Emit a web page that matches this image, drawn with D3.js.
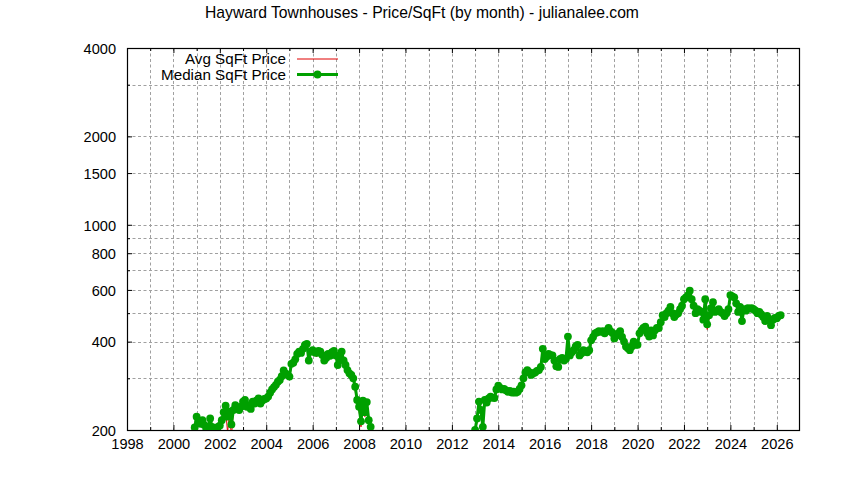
<!DOCTYPE html>
<html><head><meta charset="utf-8">
<script src="https://cdn.jsdelivr.net/npm/d3@7"></script>
<style>
body{margin:0;background:#fff}
svg{display:block}
text{font-family:"Liberation Sans",Arial,Helvetica,sans-serif;fill:#000}
</style>
</head><body>
<svg id="chart" width="844" height="480"></svg>
<script>
// ---------------- data ----------------
const chartTitle = "Hayward Townhouses - Price/SqFt (by month) - julianalee.com";
const seriesNames = ["Avg SqFt Price", "Median SqFt Price"];
const seriesColors = ["#e00000", "#00a000"];

const xMajorTicks = [1998, 2000, 2002, 2004, 2006, 2008, 2010, 2012, 2014, 2016, 2018, 2020, 2022, 2024, 2026];
const xMinorTicks = [1999, 2001, 2003, 2005, 2007, 2009, 2011, 2013, 2015, 2017, 2019, 2021, 2023, 2025];
const yMajorTicks = [200, 400, 600, 800, 1000, 1500, 2000, 4000];
const yMinorTicks = [300, 500, 700, 900, 3000];

// first run of months starts Dec 2000
const earlyStart = {year: 2000, month: 12};
const medianEarly = [204,
  222,214,210,216,208,200,204,219,205,201,198,205,
  207,216,230,242,222,231,209,234,243,236,234,240,
  250,253,240,243,236,250,246,252,256,246,252,255,
  256,260,268,275,280,285,292,296,305,319,312,308,
  304,336,339,348,363,370,366,378,390,393,345,370,
  374,368,366,372,370,360,345,352,363,358,368,372,
  359,333,352,370,345,333,320,312,308,300,281,253,
  240,214,252,230,249,216,205,190];
const avgEarly = [202,
  220,212,206,214,205,198,203,215,203,199,196,204,
  206,214,226,236,196,228,190,230,240,232,231,238,
  247,250,236,241,232,248,244,250,252,244,250,252,
  258,257,265,272,278,283,288,293,300,314,308,305,
  300,330,335,344,358,364,360,372,378,388,340,365,
  368,362,355,366,362,352,338,346,356,350,360,366,
  352,326,340,362,336,324,310,305,300,292,272,242,
  232,205,240,222,240,205,198,185];

// second run of months starts Dec 2012
const lateStart = {year: 2012, month: 12};
const medianLate = [190,
  200,219,250,234,205,253,248,256,260,258,257,275,
  283,278,275,276,273,270,272,268,270,268,270,276,
  284,300,314,320,315,308,312,314,318,320,328,378,
  349,355,363,360,359,345,330,328,349,352,345,350,
  416,359,368,374,385,390,359,365,374,370,368,374,
  404,415,427,430,434,432,434,427,435,445,434,428,
  410,420,427,434,415,400,385,380,374,385,400,390,
  390,427,437,445,450,427,416,437,420,437,445,445,
  466,492,485,500,510,525,500,485,495,500,516,530,
  558,566,575,596,558,530,500,516,510,505,475,558,
  458,492,520,545,505,510,516,505,500,489,500,516,
  576,570,566,540,505,525,470,516,510,520,518,520,
  516,510,500,505,495,485,470,489,478,455,475,482,
  480,489,492];
const avgLate = [188,
  198,212,240,226,200,245,244,250,255,254,252,268,
  278,275,272,272,270,268,269,266,268,266,268,272,
  280,296,308,316,312,305,308,310,314,316,322,366,
  340,346,356,352,350,336,322,320,340,345,338,344,
  405,352,362,368,378,382,352,360,368,365,362,368,
  396,405,418,424,428,425,428,420,428,438,428,420,
  404,414,420,428,408,392,378,374,368,378,392,384,
  384,420,430,438,442,420,410,430,414,430,438,438,
  458,484,478,492,502,516,492,478,486,492,508,520,
  548,556,566,588,550,520,492,508,500,495,465,548,
  440,480,508,535,495,500,505,495,490,478,490,508,
  566,560,556,530,495,515,460,505,500,510,508,510,
  508,500,490,495,485,475,460,480,468,448,466,475,
  472,480,485];

// ---------------- layout ----------------
const plot = {left: 127, right: 800, top: 48, bottom: 430};
const svg = d3.select("#chart");

const x = d3.scaleLinear().domain([1998, 2027]).range([plot.left, plot.right]);
const y = d3.scaleLog().domain([200, 4000]).range([plot.bottom, plot.top]);

function toPoints(start, values) {
  return values.map((v, i) => ({t: start.year + (start.month - 1 + i) / 12, v}));
}

// grid
const grid = svg.append("g").attr("stroke", "#a0a0a0").attr("stroke-width", 1)
  .attr("stroke-dasharray", "3,2.5").attr("fill", "none");
xMajorTicks.concat(xMinorTicks).filter(t => t > 1998).forEach(t => {
  const px = Math.round(x(t)) + 0.5;
  grid.append("line").attr("x1", px).attr("x2", px).attr("y1", plot.top).attr("y2", plot.bottom);
});
yMajorTicks.concat(yMinorTicks).filter(t => t > 200 && t < 4000).forEach(t => {
  const py = Math.round(y(t)) + 0.5;
  grid.append("line").attr("x1", plot.left).attr("x2", plot.right).attr("y1", py).attr("y2", py);
});

// axes (ticks pointing inward, mirrored)
const fmt = d3.format("d");
const axB = svg.append("g").attr("transform", `translate(0,${plot.bottom})`)
  .call(d3.axisBottom(x).tickValues(xMajorTicks).tickSize(-5).tickPadding(9).tickFormat(fmt));
const axBm = svg.append("g").attr("transform", `translate(0,${plot.bottom})`)
  .call(d3.axisBottom(x).tickValues(xMinorTicks).tickSize(-3).tickFormat(""));
const axT = svg.append("g").attr("transform", `translate(0,${plot.top})`)
  .call(d3.axisTop(x).tickValues(xMajorTicks).tickSize(-5).tickFormat(""));
const axTm = svg.append("g").attr("transform", `translate(0,${plot.top})`)
  .call(d3.axisTop(x).tickValues(xMinorTicks).tickSize(-3).tickFormat(""));
const axL = svg.append("g").attr("transform", `translate(${plot.left},0)`)
  .call(d3.axisLeft(y).tickValues(yMajorTicks).tickSize(-5).tickPadding(11).tickFormat(fmt));
const axLm = svg.append("g").attr("transform", `translate(${plot.left},0)`)
  .call(d3.axisLeft(y).tickValues(yMinorTicks).tickSize(-3).tickFormat(""));
const axR = svg.append("g").attr("transform", `translate(${plot.right},0)`)
  .call(d3.axisRight(y).tickValues(yMajorTicks).tickSize(-5).tickFormat(""));
const axRm = svg.append("g").attr("transform", `translate(${plot.right},0)`)
  .call(d3.axisRight(y).tickValues(yMinorTicks).tickSize(-3).tickFormat(""));

[axB, axBm, axT, axTm, axL, axLm, axR, axRm].forEach(g => {
  g.select(".domain").remove();
  g.selectAll("line").attr("stroke", "#000").attr("stroke-width", 1);
  g.selectAll("text").attr("font-size", "14.6px").attr("fill", "#000")
    .attr("font-family", '"Liberation Sans",Arial,sans-serif');
});
axB.selectAll("text").attr("dy", null).attr("y", 19);
axL.selectAll("text").attr("dy", "0.36em");

// border
svg.append("rect").attr("x", plot.left + 0.5).attr("y", plot.top + 0.5)
  .attr("width", plot.right - plot.left - 1).attr("height", plot.bottom - plot.top)
  .attr("fill", "none").attr("stroke", "#000").attr("stroke-width", 1.2);

// clip
svg.append("clipPath").attr("id", "clip").append("rect")
  .attr("x", plot.left).attr("y", plot.top)
  .attr("width", plot.right - plot.left).attr("height", plot.bottom - plot.top);
const data = svg.append("g").attr("clip-path", "url(#clip)");

const line = d3.line().x(d => x(d.t)).y(d => y(d.v));

// avg series (thin red line)
[toPoints(earlyStart, avgEarly), toPoints(lateStart, avgLate)].forEach(seg => {
  data.append("path").datum(seg).attr("d", line)
    .attr("fill", "none").attr("stroke", seriesColors[0]).attr("stroke-width", 1);
});
// median series (thick green line with points)
[toPoints(earlyStart, medianEarly), toPoints(lateStart, medianLate)].forEach(seg => {
  data.append("path").datum(seg).attr("d", line)
    .attr("fill", "none").attr("stroke", seriesColors[1]).attr("stroke-width", 3)
    .attr("stroke-linejoin", "round");
  data.selectAll(null).data(seg.filter(d => d.v >= 200)).enter().append("circle")
    .attr("cx", d => x(d.t)).attr("cy", d => y(d.v)).attr("r", 3.9)
    .attr("fill", seriesColors[1]);
});

// title
svg.append("text").attr("x", 422).attr("y", 18).attr("text-anchor", "middle")
  .attr("font-size", "15.7px").text(chartTitle);

// legend
const legend = svg.append("g");
const legY = [59, 74.5];
seriesNames.forEach((name, i) => {
  legend.append("text").attr("x", 286).attr("y", legY[i]).attr("dy", "0.33em")
    .attr("text-anchor", "end").attr("font-size", "15.2px").text(name);
  legend.append("line").attr("x1", 297).attr("x2", 338).attr("y1", legY[i]).attr("y2", legY[i])
    .attr("stroke", seriesColors[i]).attr("stroke-width", i === 0 ? 1 : 3);
});
legend.append("circle").attr("cx", 317.5).attr("cy", legY[1]).attr("r", 3.9).attr("fill", seriesColors[1]);
</script>
</body></html>
